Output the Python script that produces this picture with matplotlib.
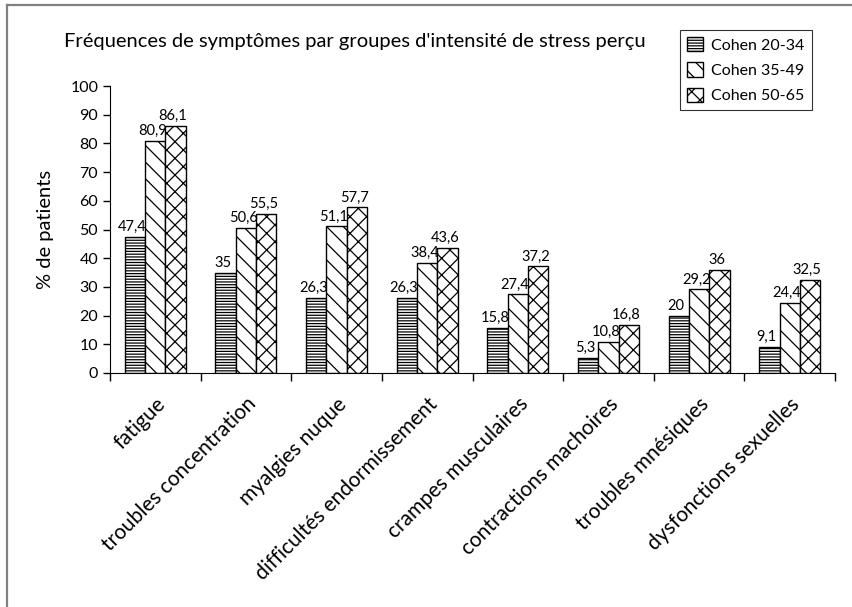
import matplotlib
matplotlib.use("Agg")
import matplotlib.pyplot as plt
from matplotlib.lines import Line2D
import numpy as np

plt.rcParams['font.family'] = ['Lato', 'DejaVu Sans']
plt.rcParams['hatch.linewidth'] = 0.9

categories = ["fatigue", "troubles concentration", "myalgies nuque",
              "difficultés endormissement", "crampes musculaires",
              "contractions machoires", "troubles mnésiques",
              "dysfonctions sexuelles"]
series_names = ["Cohen 20-34", "Cohen 35-49", "Cohen 50-65"]
cohen_20_34 = [47.4, 35, 26.3, 26.3, 15.8, 5.3, 20, 9.1]
cohen_35_49 = [80.9, 50.6, 51.1, 38.4, 27.4, 10.8, 29.2, 24.4]
cohen_50_65 = [86.1, 55.5, 57.7, 43.6, 37.2, 16.8, 36, 32.5]
yticks = list(range(0, 101, 10))

W, H = 852, 607
fig = plt.figure(figsize=(W / 100, H / 100), dpi=100)
ax = fig.add_axes([110 / W, 1 - 373 / H, (835 - 110) / W, (373 - 86) / H])

# outer frame (top and left edges)
fig.add_artist(Line2D([7 / W, 7 / W], [0, 1 - 5 / H], transform=fig.transFigure,
                      color="#808080", lw=1.6))
fig.add_artist(Line2D([7 / W, 1], [1 - 5 / H, 1 - 5 / H], transform=fig.transFigure,
                      color="#808080", lw=1.6))

x = np.arange(len(categories))
bw = 0.224
hatches = ["------", "\\\\", "xx"]
data = [cohen_20_34, cohen_35_49, cohen_50_65]
for i, (vals, name, h) in enumerate(zip(data, series_names, hatches)):
    bars = ax.bar(x + (i - 1) * bw, vals, bw, facecolor="white", edgecolor="black",
                  linewidth=1.0, hatch=h, label=name)
    for b, v in zip(bars, vals):
        ax.annotate(f"{v:g}".replace(".", ","),
                    (b.get_x() + b.get_width() / 2, v),
                    xytext=(-2, 2), textcoords="offset points",
                    ha="center", va="bottom", fontsize=10.5)

ax.set_xlim(-0.5, len(categories) - 0.5)
ax.set_ylim(0, 100)
ax.set_yticks(yticks)
ax.tick_params(axis="y", labelsize=11.5, length=5, width=1, direction="out")
ax.set_xticks(np.arange(len(categories) + 1) - 0.5, minor=True)
ax.set_xticks(x)
ax.set_xticklabels(categories, rotation=45, ha="right", va="top",
                   rotation_mode="anchor", fontsize=15)
ax.tick_params(axis="x", which="major", length=0, pad=15)
ax.tick_params(axis="x", which="minor", length=6, width=1, direction="out")
for s in ["top", "right"]:
    ax.spines[s].set_visible(False)
ax.set_ylabel("% de patients", fontsize=14.5, labelpad=12)

fig.text(64 / W, 1 - 41 / H, "Fréquences de symptômes par groupes d'intensité de stress perçu",
         fontsize=14.5, va="center", ha="left")

leg = ax.legend(loc="upper left", bbox_to_anchor=(680 / W, 1 - 30 / H),
                bbox_transform=fig.transFigure, frameon=True, fancybox=False,
                edgecolor="black", fontsize=11.5, handlelength=1.0, handleheight=1.0,
                handletextpad=0.5, borderpad=0.45, labelspacing=0.6,
                borderaxespad=0)
leg.get_frame().set_linewidth(0.8)

fig.savefig("out.png", dpi=100)
